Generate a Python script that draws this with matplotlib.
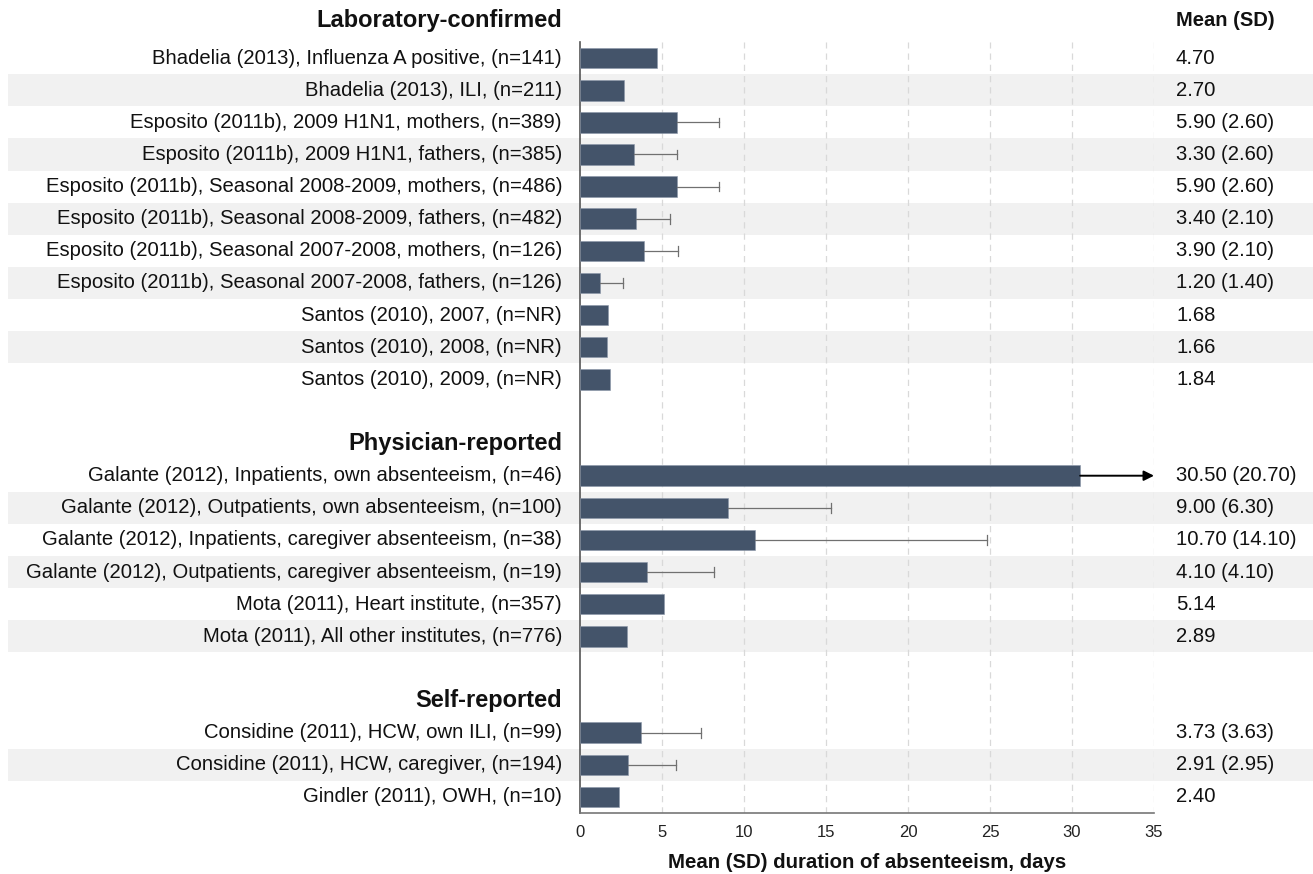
import numpy as np
import matplotlib
matplotlib.use("Agg")
import matplotlib.pyplot as plt
import matplotlib.transforms as mtransforms

plt.rcParams['font.family'] = ['Liberation Sans', 'DejaVu Sans']

groups = ["Laboratory-confirmed", "Physician-reported", "Self-reported"]

lab_labels = [
    "Bhadelia (2013), Influenza A positive, (n=141)",
    "Bhadelia (2013), ILI, (n=211)",
    "Esposito (2011b), 2009 H1N1, mothers, (n=389)",
    "Esposito (2011b), 2009 H1N1, fathers, (n=385)",
    "Esposito (2011b), Seasonal 2008-2009, mothers, (n=486)",
    "Esposito (2011b), Seasonal 2008-2009, fathers, (n=482)",
    "Esposito (2011b), Seasonal 2007-2008, mothers, (n=126)",
    "Esposito (2011b), Seasonal 2007-2008, fathers, (n=126)",
    "Santos (2010), 2007, (n=NR)",
    "Santos (2010), 2008, (n=NR)",
    "Santos (2010), 2009, (n=NR)",
]
lab_mean = [4.70, 2.70, 5.90, 3.30, 5.90, 3.40, 3.90, 1.20, 1.68, 1.66, 1.84]
lab_sd = [None, None, 2.60, 2.60, 2.60, 2.10, 2.10, 1.40, None, None, None]

phys_labels = [
    "Galante (2012), Inpatients, own absenteeism, (n=46)",
    "Galante (2012), Outpatients, own absenteeism, (n=100)",
    "Galante (2012), Inpatients, caregiver absenteeism, (n=38)",
    "Galante (2012), Outpatients, caregiver absenteeism, (n=19)",
    "Mota (2011), Heart institute, (n=357)",
    "Mota (2011), All other institutes, (n=776)",
]
phys_mean = [30.50, 9.00, 10.70, 4.10, 5.14, 2.89]
phys_sd = [20.70, 6.30, 14.10, 4.10, None, None]

self_labels = [
    "Considine (2011), HCW, own ILI, (n=99)",
    "Considine (2011), HCW, caregiver, (n=194)",
    "Gindler (2011), OWH, (n=10)",
]
self_mean = [3.73, 2.91, 2.40]
self_sd = [3.63, 2.95, None]

x_ticks = [0, 5, 10, 15, 20, 25, 30, 35]
x_max = 35

bar_color = "#44546A"
stripe_color = "#F1F1F1"
text_color = "#111111"

fig = plt.figure(figsize=(13.13, 8.74), dpi=100)
ax = fig.add_axes([0.4417, 0.0698, 0.8789 - 0.4417, 0.9519 - 0.0698])

# lay out rows: a header row per group, a blank row between groups
rows = []  # (ypos, label, mean, sd, stripe)
headers = []
pos = 0
for gi, (name, labs, means, sds) in enumerate(zip(
        groups, [lab_labels, phys_labels, self_labels],
        [lab_mean, phys_mean, self_mean], [lab_sd, phys_sd, self_sd])):
    if gi > 0:
        pos += 1
    headers.append((pos, name))
    pos += 1
    for i, (lb, m, s) in enumerate(zip(labs, means, sds)):
        rows.append((pos, lb, m, s, i % 2 == 1))
        pos += 1
last = pos - 1

ax.set_ylim(last + 0.5, 0.5)
ax.set_xlim(0, x_max)

blend = mtransforms.blended_transform_factory(fig.transFigure, ax.transData)
for y, lb, m, s, stripe in rows:
    if stripe:
        ax.add_patch(plt.Rectangle((0.006, y - 0.5), 0.994, 1.0, transform=blend,
                                   facecolor=stripe_color, edgecolor="none",
                                   zorder=0, clip_on=False))

for xt in x_ticks[1:]:
    ax.axvline(xt, color="#D9D9D9", lw=0.9, ls=(0, (5, 4)), zorder=1)

ys = [r[0] for r in rows]
means_all = [r[2] for r in rows]
ax.barh(ys, means_all, height=0.64, color=bar_color, edgecolor="#8A96A8",
        linewidth=0.4, zorder=3)

for y, lb, m, s, stripe in rows:
    if s is None:
        continue
    hi = m + s
    if hi > x_max:
        ax.annotate("", xy=(x_max, y), xytext=(m, y),
                    arrowprops=dict(arrowstyle="-|>", color="black", lw=1.4,
                                    mutation_scale=15, shrinkA=0, shrinkB=0),
                    zorder=4, annotation_clip=False)
    else:
        ax.plot([m, hi], [y, y], color="#707070", lw=0.9, zorder=4)
        ax.plot([hi, hi], [y - 0.15, y + 0.15], color="#707070", lw=0.9, zorder=4)

label_x = 562 / 1313
val_x = 1176 / 1313
for y, lb, m, s, stripe in rows:
    ax.text(label_x, y, lb, transform=blend, ha="right", va="center",
            fontsize=14.6, color=text_color, clip_on=False)
    txt = f"{m:.2f}" if s is None else f"{m:.2f} ({s:.2f})"
    ax.text(val_x, y, txt, transform=blend, ha="left", va="center",
            fontsize=14.6, color=text_color, clip_on=False)

for y, name in headers:
    yy = y - 0.18 if y == 0 else y
    ax.text(label_x, yy, name, transform=blend, ha="right", va="center",
            fontsize=17, fontweight="bold", color=text_color, clip_on=False)
ax.text(val_x, -0.18, "Mean (SD)", transform=blend, ha="left",
        va="center", fontsize=14.5, fontweight="bold", color=text_color,
        clip_on=False)

ax.set_yticks([])
ax.set_xticks(x_ticks)
ax.set_xticklabels([str(t) for t in x_ticks], fontsize=12, color="#222222",
                   family=["Liberation Sans Narrow", "Liberation Sans"])
ax.tick_params(axis="x", length=0, pad=9)
for side in ["top", "right"]:
    ax.spines[side].set_visible(False)
ax.spines["left"].set_color("#555555")
ax.spines["bottom"].set_color("#777777")
ax.spines["left"].set_linewidth(1.2)
ax.spines["bottom"].set_linewidth(1.2)
ax.patch.set_alpha(0)
ax.set_xlabel("Mean (SD) duration of absenteeism, days", fontsize=14.7,
              fontweight="bold", labelpad=9, color=text_color)

fig.savefig("out.png", dpi=100)
